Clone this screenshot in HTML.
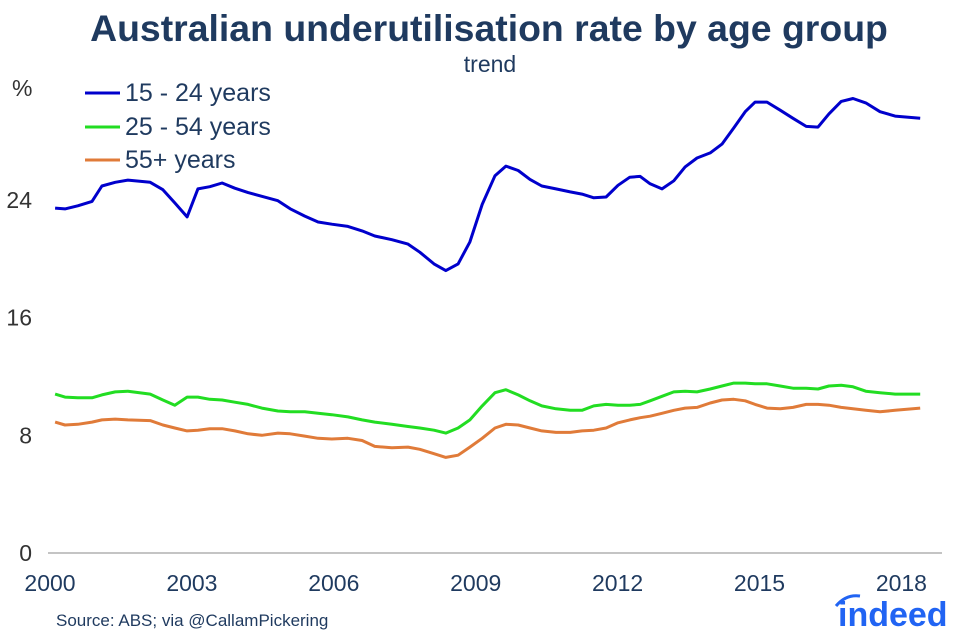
<!DOCTYPE html>
<html><head><meta charset="utf-8"><style>
body{margin:0;background:#fff;width:977px;height:638px;overflow:hidden;font-family:"Liberation Sans",sans-serif}
svg text{font-family:"Liberation Sans",sans-serif}
</style></head><body>
<svg id="chart" width="977" height="638" viewBox="0 0 977 638">
<text x="489" y="41" text-anchor="middle" font-size="37.4" font-weight="bold" fill="#1f3a5f">Australian underutilisation rate by age group</text>
<text x="490" y="72" text-anchor="middle" font-size="23" fill="#1f3a5f">trend</text>
<text x="12" y="96" font-size="23" fill="#333">%</text>
<g id="yticks"></g><g id="xticks"></g><g id="series"></g>
<g>
<line x1="85" y1="93" x2="120" y2="93" stroke="#0000cc" stroke-width="3"/>
<text x="125" y="101" font-size="25" fill="#1f3a5f">15 - 24 years</text>
<line x1="85" y1="127" x2="120" y2="127" stroke="#22dd22" stroke-width="3"/>
<text x="125" y="135" font-size="25" fill="#1f3a5f">25 - 54 years</text>
<line x1="85" y1="160" x2="120" y2="160" stroke="#e07b39" stroke-width="3"/>
<text x="125" y="168" font-size="25" fill="#1f3a5f">55+ years</text>
</g>
<text x="56" y="626" font-size="17" fill="#1f3a5f">Source: ABS; via @CallamPickering</text>
<text x="838" y="626" font-size="34" font-weight="bold" fill="#2164f3">indeed</text>
<path d="M836 606 Q846 594 860 596" stroke="#2164f3" stroke-width="3" fill="none"/>
</svg>
<script>
const yTicks=[0,8,16,24];
const xTicks=[2000,2003,2006,2009,2012,2015,2018];
const dates=[2000.15,2000.36,2000.63,2000.93,2001.14,2001.42,2001.69,2002.16,2002.43,2002.68,2002.94,2003.17,2003.42,2003.68,2003.95,2004.23,2004.52,2004.86,2005.12,2005.43,2005.71,2006.0,2006.34,2006.64,2006.91,2007.27,2007.61,2007.86,2008.16,2008.41,2008.67,2008.92,2009.18,2009.45,2009.68,2009.94,2010.19,2010.44,2010.74,2011.04,2011.29,2011.54,2011.8,2012.05,2012.3,2012.52,2012.73,2012.98,2013.23,2013.47,2013.72,2014.0,2014.25,2014.5,2014.74,2014.95,2015.2,2015.48,2015.75,2016.03,2016.28,2016.51,2016.77,2017.02,2017.29,2017.59,2017.91,2018.44];
const youth=[23.45,23.39,23.6,23.9,24.95,25.2,25.35,25.2,24.7,23.8,22.85,24.75,24.9,25.15,24.8,24.5,24.25,23.95,23.4,22.9,22.5,22.35,22.2,21.9,21.55,21.3,21.0,20.45,19.65,19.2,19.65,21.15,23.7,25.65,26.3,26.0,25.4,24.95,24.75,24.55,24.4,24.15,24.2,25.0,25.55,25.6,25.1,24.75,25.3,26.25,26.85,27.2,27.8,28.9,30.0,30.65,30.65,30.1,29.55,29.0,28.95,29.85,30.7,30.9,30.6,30.0,29.7,29.55];
const prime=[10.8,10.6,10.55,10.55,10.75,10.95,11.0,10.8,10.4,10.05,10.6,10.6,10.45,10.4,10.25,10.1,9.85,9.65,9.6,9.6,9.5,9.4,9.25,9.05,8.9,8.75,8.6,8.5,8.35,8.15,8.5,9.05,10.0,10.9,11.1,10.75,10.35,10.0,9.8,9.7,9.7,10.0,10.1,10.05,10.05,10.1,10.35,10.65,10.95,11.0,10.95,11.15,11.35,11.55,11.55,11.5,11.5,11.35,11.2,11.2,11.15,11.35,11.4,11.3,11.0,10.9,10.8,10.8];
const older=[8.9,8.7,8.75,8.9,9.05,9.1,9.05,9.0,8.7,8.5,8.3,8.35,8.45,8.45,8.3,8.1,8.0,8.15,8.1,7.95,7.8,7.75,7.8,7.65,7.25,7.15,7.2,7.05,6.75,6.5,6.65,7.2,7.8,8.5,8.75,8.7,8.5,8.3,8.2,8.2,8.3,8.35,8.5,8.85,9.05,9.2,9.3,9.5,9.7,9.85,9.9,10.2,10.4,10.45,10.35,10.1,9.85,9.8,9.9,10.1,10.1,10.05,9.9,9.8,9.7,9.6,9.7,9.85];
const NS="http://www.w3.org/2000/svg";
const X=d=>48+(d-2000)*47.3, Y=v=>553-v*14.71;
function mk(t,a,p){const e=document.createElementNS(NS,t);for(const k in a)e.setAttribute(k,a[k]);p.appendChild(e);return e;}
const yg=document.getElementById('yticks');
yTicks.forEach(v=>{const t=mk('text',{x:32,y:Y(v)+8,'text-anchor':'end','font-size':23,fill:'#333'},yg);t.textContent=v;

});
const xg=document.getElementById('xticks');
const ax=mk('line',{x1:48,y1:553,x2:942,y2:553,stroke:'#888','stroke-width':1},xg);


xTicks.forEach(v=>{const t=mk('text',{x:X(v)+2,y:591,'text-anchor':'middle','font-size':23,fill:'#1f3a5f'},xg);t.textContent=v;

});
const sg=document.getElementById('series');
[[youth,'#0000cc','line-15-24'],[prime,'#22dd22','line-25-54'],[older,'#e07b39','line-55-plus']].forEach(([s,c,n])=>{
const m=Math.min(s.length,dates.length);let d='';
for(let i=0;i<m;i++)d+=(i?'L':'M')+X(dates[i]).toFixed(1)+' '+Y(s[i]).toFixed(1);
const p=mk('path',{d:d,stroke:c,'stroke-width':3,fill:'none','stroke-linejoin':'round'},sg);

});
</script>
</body></html>
